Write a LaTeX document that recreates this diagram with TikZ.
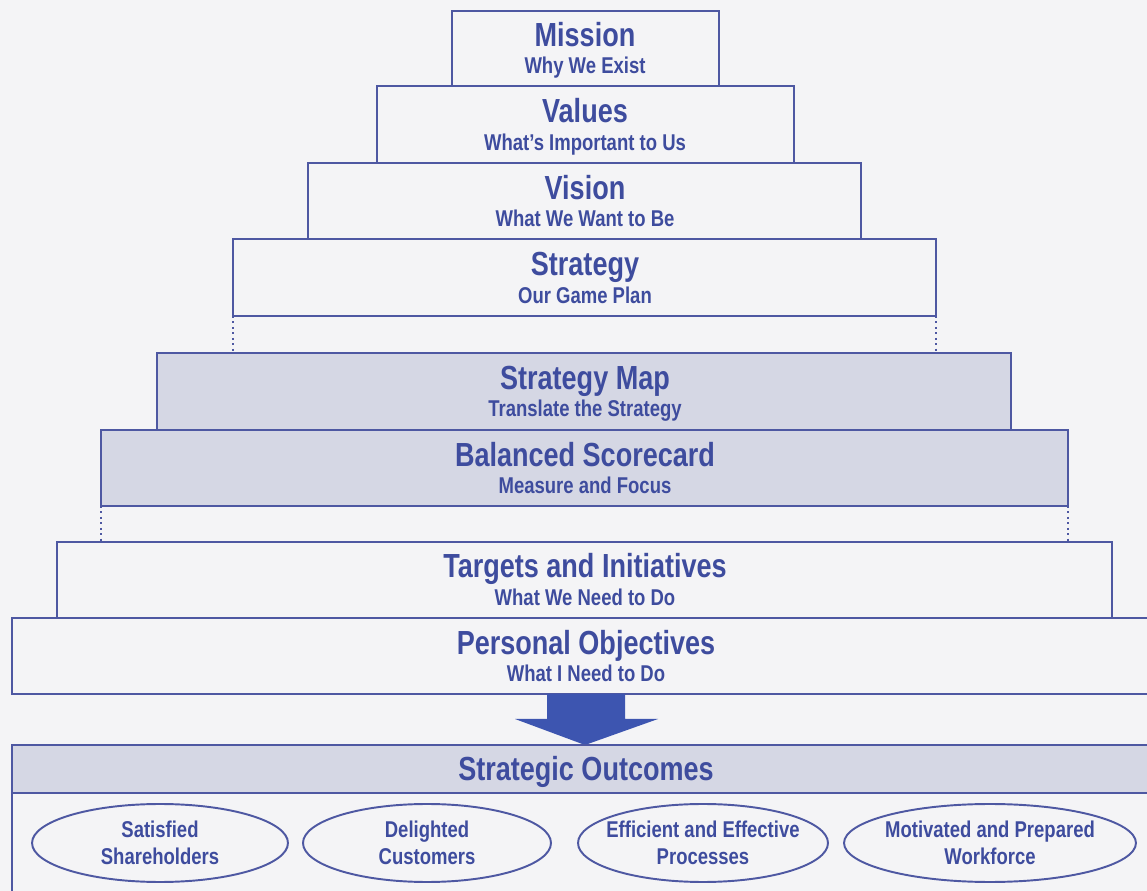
\documentclass[tikz,border=0pt]{standalone}
\usepackage{fontspec}
\setmainfont{Liberation Sans}[FakeStretch=0.81]
\usepackage{tikz}
\usetikzlibrary{calc,shapes.geometric}
\usepackage{xcolor}
\definecolor{PaperGrey}{HTML}{F4F4F6}
\definecolor{InkBlue}{HTML}{3E4C9E}
\definecolor{LineBlue}{HTML}{4E58A2}
\definecolor{ShadeBlue}{HTML}{D5D7E4}
\definecolor{ArrowBlue}{HTML}{3D55B0}
\newcommand{\tierttl}{\fontsize{19}{21}\selectfont\bfseries}
\newcommand{\tiersub}{\fontsize{13}{15}\selectfont\bfseries}

\tikzset{
  tier/.style={draw=LineBlue, line width=1.1pt},
  shaded/.style={tier, fill=ShadeBlue},
  ttl/.style={anchor=base, text=InkBlue, font=\tierttl, inner sep=0pt},
  sub/.style={anchor=base, text=InkBlue, font=\tiersub, inner sep=0pt},
  goal/.style={ellipse, draw=LineBlue, line width=1.1pt, inner sep=0pt, minimum height=1.56cm},
  goaltext/.style={text=InkBlue, align=center, inner sep=0pt,
    font=\fontsize{13}{15.5}\selectfont\bfseries},
  gap/.style={draw=LineBlue, line width=1.1pt, dotted}
}

\begin{document}
\begin{tikzpicture}[x=0.02cm, y=-0.02cm]
    \useasboundingbox (0,0) rectangle (1147,891);
    \clip (0,0) rectangle (1147,891);
    \fill[PaperGrey] (0,0) rectangle (1147,891);

    % upper part of the pyramid
    \draw[tier] (452,11) rectangle (719,86);
    \node[ttl] (mission) at (585,47) {Mission};
    \node[sub] (missionsub) at (585,74) {Why We Exist};

    \draw[tier] (377,86) rectangle (794,163);
    \node[ttl] (values) at (585,123) {Values};
    \node[sub] (valuessub) at (585,151) {What’s Important to Us};

    \draw[tier] (308,163) rectangle (861,239);
    \node[ttl] (vision) at (585,200) {Vision};
    \node[sub] (visionsub) at (585,227) {What We Want to Be};

    \draw[tier] (233,239) rectangle (936,316);
    \node[ttl] (strategy) at (585,276) {Strategy};
    \node[sub] (strategysub) at (585,304) {Our Game Plan};

    \draw[gap] (233,316) -- (233,353);
    \draw[gap] (936,316) -- (936,353);

    % shaded middle
    \draw[shaded] (157,353) rectangle (1011,430);
    \node[ttl] (map) at (585,390) {Strategy Map};
    \node[sub] (mapsub) at (585,417) {Translate the Strategy};

    \draw[shaded] (101,430) rectangle (1068,506);
    \node[ttl] (scorecard) at (585,467) {Balanced Scorecard};
    \node[sub] (scorecardsub) at (585,494) {Measure and Focus};

    \draw[gap] (101,506) -- (101,542);
    \draw[gap] (1068,506) -- (1068,542);

    % lower part
    \draw[tier] (57,542) rectangle (1112,618);
    \node[ttl] (targets) at (585,578) {Targets and Initiatives};
    \node[sub] (targetssub) at (585,606) {What We Need to Do};

    \draw[tier] (1160,618) -- (12,618) -- (12,694) -- (1160,694);
    \node[ttl] (personal) at (586,655) {Personal Objectives};
    \node[sub] (personalsub) at (586,682) {What I Need to Do};

    \fill[ArrowBlue] (547,694) -- (625,694) -- (625,719) -- (658,719) -- (585,745)
        -- (515,719) -- (547,719) -- cycle;

    % outcomes
    \fill[ShadeBlue] (12,745) rectangle (1160,793);
    \draw[tier] (1160,745) -- (12,745) -- (12,900);
    \draw[tier] (12,793) -- (1160,793);
    \node[ttl] (outcomes) at (586,781) {Strategic Outcomes};

    \node[goal, minimum width=5.12cm] (shareholders) at (160,843) {};
    \node[goaltext] (shareholderstxt) at (shareholders) {Satisfied\\Shareholders};
    \node[goal, minimum width=4.96cm] (customers) at (427,843) {};
    \node[goaltext] (customerstxt) at (customers) {Delighted\\Customers};
    \node[goal, minimum width=5.0cm] (processes) at (703,843) {};
    \node[goaltext] (processestxt) at (processes) {Efficient and Effective\\Processes};
    \node[goal, minimum width=5.84cm] (workforce) at (990,843) {};
    \node[goaltext] (workforcetxt) at (workforce) {Motivated and Prepared\\Workforce};
\end{tikzpicture}
\end{document}
